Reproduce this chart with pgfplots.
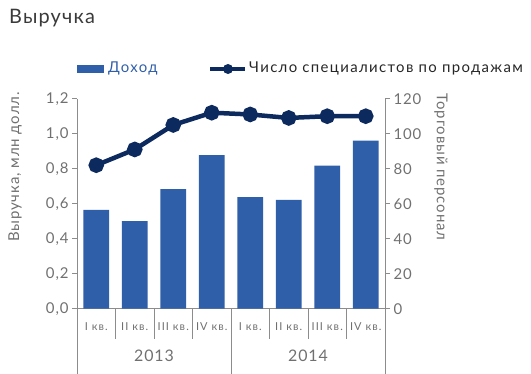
\documentclass[border=0pt]{standalone}
\usepackage{fontspec}
\setmainfont{Lato}[LetterSpace=6]
\newfontfamily\legfont{Lato}[LetterSpace=9]
\newfontfamily\qfont{Lato}[LetterSpace=10]
\usepackage{pgfplots}
\pgfplotsset{compat=1.18}
\definecolor{barblue}{HTML}{2F5FA8}
\definecolor{navy}{HTML}{0C2A5E}
\definecolor{txt}{HTML}{707070}
\definecolor{axc}{HTML}{8C8C8C}
\definecolor{ttl}{HTML}{3A3A3A}
\begin{document}
\begin{tikzpicture}[x=1bp,y=1bp]
\useasboundingbox (0,0) rectangle (531,373);
% title
\node[anchor=west, text=ttl, font=\fontsize{20}{24}\selectfont, inner sep=0pt] at (9,355) {Выручка};
% legend
\fill[barblue] (77,300) rectangle (104,308);
\node[anchor=west, text=barblue, font=\legfont\fontsize{15}{18}\selectfont, inner sep=0pt] at (108,304.5) {Доход};
\draw[navy, line width=4bp] (210,304) -- (245,304);
\fill[navy] (228,304) circle (5);
\node[anchor=west, text=black!85, font=\legfont\fontsize{15}{18}\selectfont, inner sep=0pt] at (249,304.5) {Число специалистов по продажам};
% axis labels
\node[rotate=90, anchor=center, text=txt, font=\fontsize{15}{17}\selectfont] at (15,206) {Выручка, млн долл.};
\node[rotate=-90, anchor=center, text=txt, font=\fontsize{15}{17}\selectfont] at (441,206) {Торговый персонал};
\begin{axis}[
  at={(77bp,64.3bp)}, anchor=south west,
  scale only axis, width=308bp, height=210bp,
  xmin=-0.5, xmax=7.5, ymin=0, ymax=1.2,
  axis y line*=left, axis x line*=bottom,
  axis line style={draw=axc, line width=0.8bp, -},
  ytick={0,0.2,0.4,0.6,0.8,1.0,1.2},
  yticklabel style={/pgf/number format/.cd, fixed, fixed zerofill, precision=1, use comma},
  /pgf/number format/assume math mode=true,
  tick align=outside, major tick length=5bp,
  tick style={draw=axc, line width=0.8bp},
  ticklabel style={text=txt, font=\fontsize{15}{17}\selectfont},
  xtick={0,1,2,3,4,5,6,7},
  xticklabels={I кв., II кв., III кв., IV кв., I кв., II кв., III кв., IV кв.},
  xticklabel style={font=\qfont\fontsize{11}{13}\selectfont, yshift=-5bp},
  x tick style={draw=none},
  clip=false,
]
\addplot[ybar, bar width=0.67, fill=barblue, draw=none] coordinates {
  (0,0.565) (1,0.50) (2,0.683) (3,0.878) (4,0.637) (5,0.622) (6,0.817) (7,0.96)
};
\foreach \s in {0.5,1.5,2.5,4.5,5.5,6.5} {
  \edef\tmp{\noexpand\draw[axc, line width=0.8bp] (axis cs:\s,0) -- ++(0bp,-30bp);}
  \tmp
}
\foreach \s in {-0.5,3.5,7.5} {
  \edef\tmp{\noexpand\draw[axc, line width=0.8bp] (axis cs:\s,0) -- ++(0bp,-65bp);}
  \tmp
}
\node[text=txt, font=\fontsize{16}{18}\selectfont] at ([yshift=-47bp]axis cs:1.5,0) {2013};
\node[text=txt, font=\fontsize{16}{18}\selectfont] at ([yshift=-47bp]axis cs:5.5,0) {2014};
\end{axis}
\begin{axis}[
  at={(77bp,64.3bp)}, anchor=south west,
  scale only axis, width=308bp, height=210bp,
  xmin=-0.5, xmax=7.5, ymin=0, ymax=120,
  axis y line*=right, axis x line=none,
  axis line style={draw=axc, line width=0.8bp, -},
  ytick={0,20,40,60,80,100,120},
  /pgf/number format/assume math mode=true,
  tick align=outside, major tick length=5bp,
  tick style={draw=axc, line width=0.8bp},
  ticklabel style={text=txt, font=\fontsize{15}{17}\selectfont},
  clip=false,
]
\addplot[navy, line width=4.5bp, mark=*, mark size=5.5bp, mark options={fill=navy, draw=none}] coordinates {
  (0,82) (1,91) (2,105) (3,112) (4,111) (5,109) (6,110) (7,110)
};
\end{axis}
\end{tikzpicture}
\end{document}
